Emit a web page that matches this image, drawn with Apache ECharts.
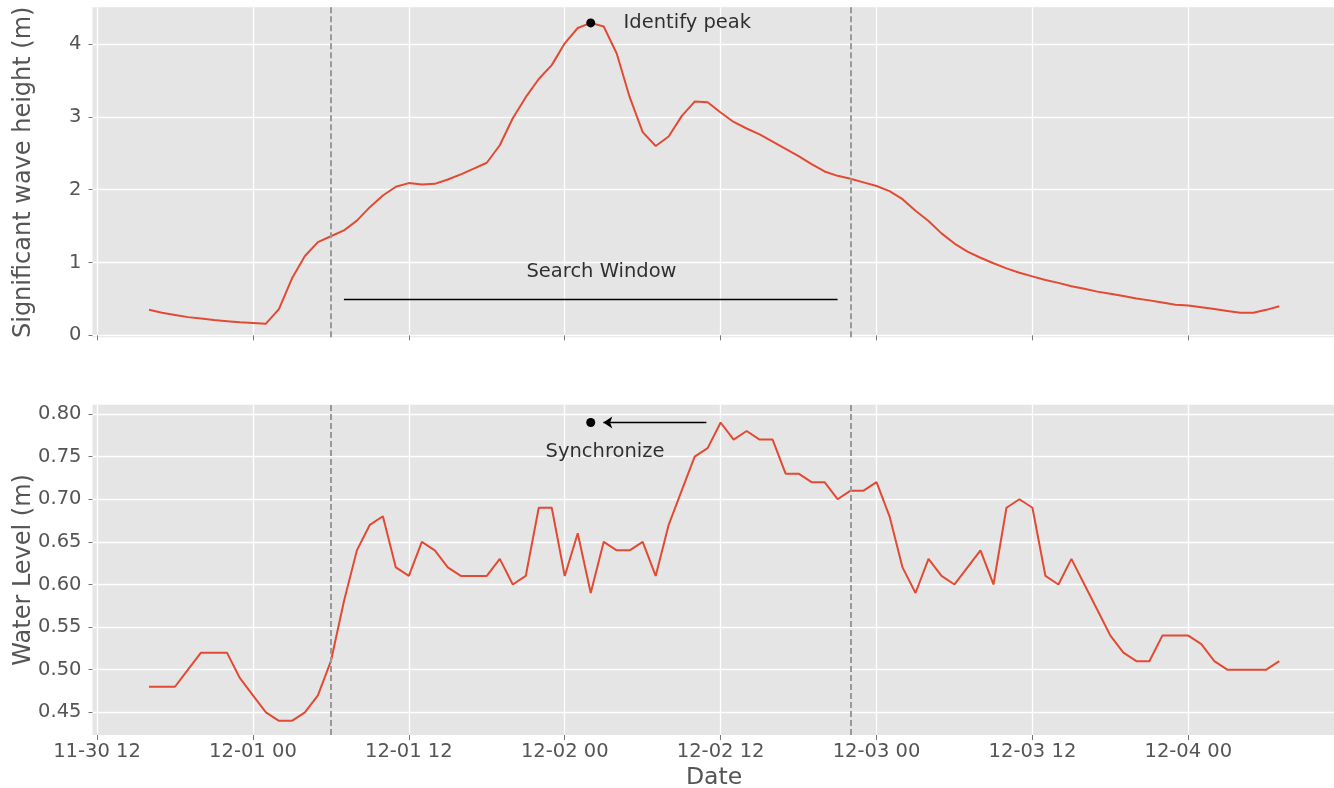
<!DOCTYPE html>
<html>
<head>
<meta charset="utf-8">
<script src="https://cdn.jsdelivr.net/npm/echarts@6/dist/echarts.min.js"></script>
<style>
  html, body { margin: 0; padding: 0; background: #ffffff; }
  #chart { width: 1334px; height: 788px; }
</style>
</head>
<body>
<div id="chart"></div>
<script>
// Storm event: wave height peak search and water-level synchronisation.
const YEAR = 2019;
const HOUR = 3600 * 1000;
const firstTime = Date.UTC(YEAR, 10, 30, 16);   // first hourly sample, 11-30 16:00
const WINDOW_HOURS = 20;                         // half-width of the peak search window

// Significant wave height (m), hourly
const waveHeight = [
  0.35, 0.31, 0.28, 0.25, 0.23, 0.21, 0.195, 0.18, 0.17, 0.16,
  0.36, 0.78, 1.09, 1.28, 1.36, 1.44, 1.575, 1.76, 1.92, 2.04,
  2.09, 2.07, 2.08, 2.14, 2.21, 2.29, 2.37, 2.61, 2.98, 3.27,
  3.52, 3.71, 4.01, 4.22, 4.29, 4.24, 3.87, 3.27, 2.79, 2.60,
  2.73, 3.01, 3.21, 3.20, 3.06, 2.93, 2.84, 2.76, 2.66, 2.56,
  2.46, 2.35, 2.25, 2.19, 2.15, 2.10, 2.05, 1.98, 1.87, 1.71,
  1.57, 1.40, 1.26, 1.15, 1.065, 0.99, 0.92, 0.86, 0.81, 0.76,
  0.72, 0.675, 0.64, 0.60, 0.57, 0.54, 0.505, 0.48, 0.45, 0.42,
  0.41, 0.385, 0.36, 0.335, 0.31, 0.31, 0.35, 0.40
];

// Water level (m), hourly
const waterLevel = [
  0.48, 0.48, 0.48, 0.50, 0.52, 0.52, 0.52, 0.49, 0.47, 0.45,
  0.44, 0.44, 0.45, 0.47, 0.51, 0.58, 0.64, 0.67, 0.68, 0.62,
  0.61, 0.65, 0.64, 0.62, 0.61, 0.61, 0.61, 0.63, 0.60, 0.61,
  0.69, 0.69, 0.61, 0.66, 0.59, 0.65, 0.64, 0.64, 0.65, 0.61,
  0.67, 0.71, 0.75, 0.76, 0.79, 0.77, 0.78, 0.77, 0.77, 0.73,
  0.73, 0.72, 0.72, 0.70, 0.71, 0.71, 0.72, 0.68, 0.62, 0.59,
  0.63, 0.61, 0.60, 0.62, 0.64, 0.60, 0.69, 0.70, 0.69, 0.61,
  0.60, 0.63, 0.60, 0.57, 0.54, 0.52, 0.51, 0.51, 0.54, 0.54,
  0.54, 0.53, 0.51, 0.50, 0.50, 0.50, 0.50, 0.51
];

const xTickLabels = ['11-30 12', '12-01 00', '12-01 12', '12-02 00',
                     '12-02 12', '12-03 00', '12-03 12', '12-04 00'];
const waveTicks = [0, 1, 2, 3, 4];
const levelTicks = [0.45, 0.50, 0.55, 0.60, 0.65, 0.70, 0.75, 0.80];

// ---- derived values ----
const times = waveHeight.map((_, i) => firstTime + i * HOUR);
const tickTimes = xTickLabels.map(s => {
  const [md, hh] = s.split(' ');
  const [mm, dd] = md.split('-').map(Number);
  return Date.UTC(YEAR, mm - 1, dd, Number(hh));
});
const pad = n => String(n).padStart(2, '0');
const fmtTime = v => {
  const d = new Date(v);
  return pad(d.getUTCMonth() + 1) + '-' + pad(d.getUTCDate()) + ' ' + pad(d.getUTCHours());
};

const xMargin = 4.35 * HOUR;
const xMin = times[0] - xMargin;
const xMax = times[times.length - 1] + xMargin;

const peakIdx = waveHeight.indexOf(Math.max(...waveHeight));
const peakTime = times[peakIdx];
const peakWave = waveHeight[peakIdx];
const winStart = peakTime - WINDOW_HOURS * HOUR;
const winEnd = peakTime + WINDOW_HOURS * HOUR;
const levelMax = Math.max(...waterLevel);
const levelPeakTime = times[waterLevel.indexOf(levelMax)];

const FONT = 'DejaVu Sans';
const RED = '#E24A33';
const TICK_COLOR = '#555555';

const windowLines = {
  silent: true,
  symbol: 'none',
  animation: false,
  label: { show: false },
  emphasis: { disabled: true },
  lineStyle: { color: '#999999', type: [6, 3], width: 2 },
  data: [{ xAxis: winStart }, { xAxis: winEnd }]
};

function xAxisFor(gridIndex, showLabels) {
  return {
    type: 'value', gridIndex, min: xMin, max: xMax,
    name: showLabels ? 'Date' : '',
    nameLocation: 'middle', nameGap: 31, nameMoveOverlap: false,
    nameTextStyle: { fontFamily: FONT, fontSize: 23.6, color: TICK_COLOR },
    axisLine: { show: false },
    axisTick: { show: true, length: 5, lineStyle: { color: '#777777', width: 1 }, customValues: tickTimes },
    axisLabel: {
      show: showLabels, customValues: tickTimes, margin: 7,
      fontFamily: FONT, fontSize: 19.5, color: TICK_COLOR,
      formatter: v => fmtTime(v)
    },
    splitLine: { show: true, lineStyle: { color: '#ffffff', width: 1.3 } }
  };
}

function yAxisFor(gridIndex, name, min, max, ticks, decimals) {
  return {
    type: 'value', gridIndex, min, max, name,
    nameLocation: 'middle', nameGap: 57, nameRotate: 90, nameMoveOverlap: false,
    nameTextStyle: { fontFamily: FONT, fontSize: 24, color: TICK_COLOR },
    axisLine: { show: false },
    axisTick: { show: true, length: 4, lineStyle: { color: '#777777', width: 1 }, customValues: ticks },
    axisLabel: {
      customValues: ticks, margin: 11,
      fontFamily: FONT, fontSize: 19.5, color: TICK_COLOR,
      formatter: v => Number(v).toFixed(decimals)
    },
    splitLine: { show: true, lineStyle: { color: '#ffffff', width: 1.3 } }
  };
}

const textLabel = (text, position) => ({
  show: true, formatter: text, position, distance: 0,
  fontFamily: FONT, fontSize: 19.5, color: '#000000'
});

const gridBase = {
  left: 92.5, width: 1243.3, show: true, backgroundColor: '#E5E5E5',
  borderWidth: 0, containLabel: false, outerBoundsMode: 'none'
};

const option = {
  animation: false,
  backgroundColor: '#ffffff',
  grid: [
    Object.assign({}, gridBase, { top: 7.3, height: 330 }),
    Object.assign({}, gridBase, { top: 404.7, height: 330.3 })
  ],
  xAxis: [xAxisFor(0, false), xAxisFor(1, true)],
  yAxis: [
    yAxisFor(0, 'Significant wave height (m)', -0.027, 4.504, waveTicks, 0),
    yAxisFor(1, 'Water Level (m)', 0.4234, 0.8109, levelTicks, 2)
  ],
  series: [
    {
      name: 'Significant wave height', type: 'line', xAxisIndex: 0, yAxisIndex: 0,
      data: times.map((t, i) => [t, waveHeight[i]]),
      showSymbol: false, silent: true,
      lineStyle: { color: RED, width: 2 },
      markLine: Object.assign({}, windowLines, {
        data: [
          { xAxis: winStart },
          { xAxis: winEnd },
          [
            { coord: [winStart + HOUR, 0.5], lineStyle: { color: '#000000', type: 'solid', width: 1.4 } },
            { coord: [winEnd - HOUR, 0.5] }
          ]
        ]
      }),
      z: 3
    },
    {
      name: 'Water level', type: 'line', xAxisIndex: 1, yAxisIndex: 1,
      data: times.map((t, i) => [t, waterLevel[i]]),
      showSymbol: false, silent: true,
      lineStyle: { color: RED, width: 2 },
      markLine: windowLines,
      z: 3
    },
    {
      name: 'Synchronize arrow', type: 'line', xAxisIndex: 1, yAxisIndex: 1,
      data: [], silent: true,
      markLine: {
        silent: true, animation: false,
        symbol: ['none', 'arrow'], symbolSize: 9,
        label: { show: false },
        emphasis: { disabled: true },
        lineStyle: { color: '#000000', type: 'solid', width: 1.4 },
        itemStyle: { color: '#000000' },
        data: [[
          { coord: [levelPeakTime - 1.1 * HOUR, levelMax] },
          { coord: [peakTime + 0.97 * HOUR, levelMax] }
        ]]
      }
    },
    {
      name: 'Peak', type: 'scatter', xAxisIndex: 0, yAxisIndex: 0, silent: true,
      symbolSize: 9, itemStyle: { color: '#000000', opacity: 1 },
      data: [[peakTime, peakWave]], z: 5
    },
    {
      name: 'Synchronized peak', type: 'scatter', xAxisIndex: 1, yAxisIndex: 1, silent: true,
      symbolSize: 9, itemStyle: { color: '#000000', opacity: 1 },
      data: [[peakTime, levelMax]], z: 5
    },
    {
      name: 'Notes top', type: 'scatter', xAxisIndex: 0, yAxisIndex: 0, silent: true,
      symbolSize: 1, itemStyle: { color: 'rgba(0,0,0,0)' },
      data: [
        { value: [peakTime + 2.49 * HOUR, peakWave], label: textLabel('Identify peak', 'right') },
        { value: [peakTime + 0.83 * HOUR, 0.875], label: textLabel('Search Window', 'inside') }
      ], z: 6
    },
    {
      name: 'Notes bottom', type: 'scatter', xAxisIndex: 1, yAxisIndex: 1, silent: true,
      symbolSize: 1, itemStyle: { color: 'rgba(0,0,0,0)' },
      data: [
        { value: [peakTime + 1.1 * HOUR, 0.756], label: textLabel('Synchronize', 'inside') }
      ], z: 6
    }
  ]
};

const chart = echarts.init(document.getElementById('chart'), null, { renderer: 'canvas' });
chart.setOption(option);
</script>
</body>
</html>
